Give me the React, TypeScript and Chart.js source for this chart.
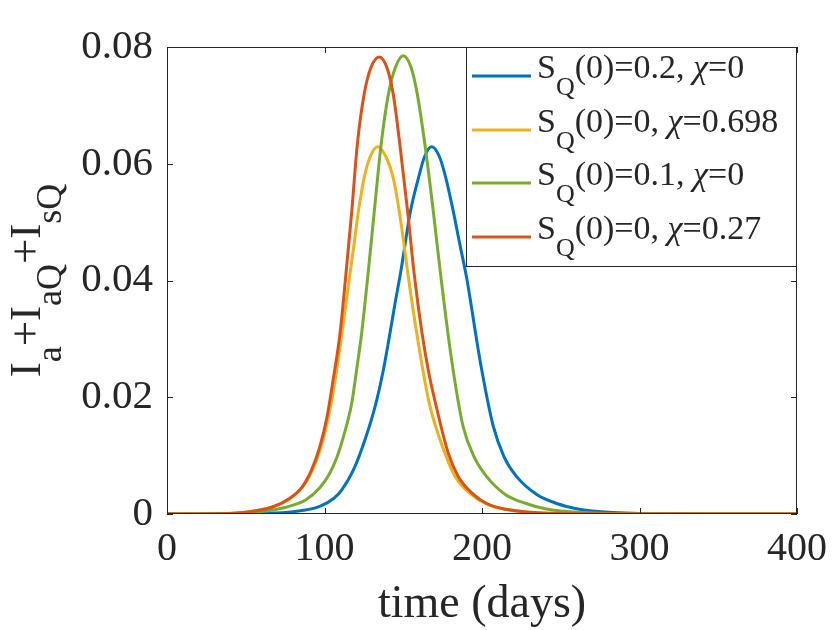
import { useEffect, useRef } from "react"
import { Chart, registerables } from "chart.js"

Chart.register(...registerables)

// curve samples (day, fraction infected)
const blueDays = [0, 40, 60, 80, 97, 106, 110.9, 118.3, 126.3, 132.7, 137.4, 141.2, 144.8, 148.6, 151.1, 154.3, 159.6, 163.5, 168, 173, 177.1, 181.8, 186, 190.3, 198.7, 207.2, 214, 222, 235, 247.5, 260, 270, 300, 340, 400]
const blueVals = [0, 0.00003, 0.0001, 0.0004, 0.0013, 0.0027, 0.0041, 0.0075, 0.0132, 0.019, 0.0247, 0.0304, 0.0361, 0.0418, 0.0461, 0.0515, 0.0575, 0.0612, 0.0629, 0.0612, 0.0575, 0.0518, 0.0461, 0.0404, 0.0264, 0.015, 0.0098, 0.0064, 0.0033, 0.0018, 0.0009, 0.0005, 0.0001, 0.00002, 0]

const yellowDays = [0, 30, 50, 67, 78, 86, 92, 97.5, 102, 106.3, 110.6, 115.8, 118.7, 121.5, 125.1, 129, 133.8, 139, 143.7, 147.5, 150.5, 152.6, 158.9, 166.5, 176.5, 183, 193, 203, 215, 230, 260, 300, 400]
const yellowVals = [0, 0.00005, 0.0003, 0.0012, 0.0026, 0.0046, 0.0073, 0.0112, 0.016, 0.0222, 0.03, 0.0404, 0.0461, 0.0518, 0.0575, 0.0612, 0.0629, 0.0612, 0.0575, 0.0518, 0.0461, 0.0418, 0.0304, 0.019, 0.0104, 0.0064, 0.0034, 0.0017, 0.0008, 0.0003, 0.00005, 0.00001, 0]

const greenDays = [0, 30, 50, 65, 76, 88, 97, 103, 108, 112, 117.3, 120.4, 123.6, 127.6, 131.6, 135.9, 140.5, 145, 150, 155, 159, 163.8, 169.1, 174, 180.7, 188, 195, 203, 215, 228, 240, 250, 280, 320, 400]
const greenVals = [0, 0.00003, 0.00022, 0.0006, 0.0012, 0.0024, 0.0045, 0.0068, 0.0098, 0.0132, 0.019, 0.0247, 0.031, 0.041, 0.0518, 0.0632, 0.0718, 0.0765, 0.0785, 0.0765, 0.0718, 0.0632, 0.0518, 0.0404, 0.0264, 0.015, 0.0098, 0.0064, 0.0033, 0.0018, 0.0009, 0.0005, 0.0001, 0.00002, 0]

const redDays = [0, 30, 50, 67, 78, 86, 92, 97, 101.5, 105.5, 109.8, 113.5, 117.3, 120.8, 125.1, 129.5, 134.8, 140, 143.7, 147.9, 152.8, 157, 161.8, 166, 170.2, 178.6, 185, 194, 203, 215, 230, 260, 300, 400]
const redVals = [0, 0.00005, 0.0003, 0.0012, 0.0027, 0.0047, 0.0077, 0.0115, 0.0165, 0.023, 0.0308, 0.0408, 0.0518, 0.0632, 0.0718, 0.0765, 0.0783, 0.0762, 0.0718, 0.0632, 0.0518, 0.041, 0.0312, 0.0245, 0.0193, 0.0104, 0.0064, 0.0035, 0.0018, 0.0008, 0.0003, 0.00005, 0.00001, 0]

const xTicks = [0, 100, 200, 300, 400]
const yTicks = [0, 0.02, 0.04, 0.06, 0.08]

// legend: S_Q(0)=..., chi=...
const legendSQ0 = ["0.2", "0", "0.1", "0"]
const legendChi = ["0", "0.698", "0", "0.27"]
const colors = ["#0072BD", "#EDB120", "#77AC30", "#D95319"]

const FONT = "'Liberation Serif', 'Times New Roman', serif"
const INK = "#262626"

type Seg = { text: string; size: number; dy?: number; italic?: boolean }

function drawSegs(ctx: CanvasRenderingContext2D, segs: Seg[], x: number, y: number) {
  let cx = x
  for (const s of segs) {
    ctx.font = `${s.italic ? "italic " : ""}${s.size}px ${FONT}`
    ctx.fillText(s.text, cx, y + (s.dy || 0))
    cx += ctx.measureText(s.text).width
  }
  return cx - x
}

function segsWidth(ctx: CanvasRenderingContext2D, segs: Seg[]) {
  let w = 0
  for (const s of segs) {
    ctx.font = `${s.italic ? "italic " : ""}${s.size}px ${FONT}`
    w += ctx.measureText(s.text).width
  }
  return w
}

const decorPlugin = {
  id: "matlabDecor",
  afterDraw(chart: any) {
    const ctx: CanvasRenderingContext2D = chart.ctx
    const { left, right, top, bottom } = chart.chartArea
    const xs = chart.scales.x
    const ys = chart.scales.y
    ctx.save()

    // axes box and inward ticks
    ctx.strokeStyle = INK
    ctx.lineWidth = 1
    ctx.strokeRect(left + 0.5, top + 0.5, right - left - 1, bottom - top - 1)
    ctx.beginPath()
    for (const v of xTicks) {
      const px = Math.round(xs.getPixelForValue(v)) + 0.5
      ctx.moveTo(px, bottom)
      ctx.lineTo(px, bottom - 6)
      ctx.moveTo(px, top)
      ctx.lineTo(px, top + 6)
    }
    for (const v of yTicks) {
      const py = Math.round(ys.getPixelForValue(v)) + 0.5
      ctx.moveTo(left, py)
      ctx.lineTo(left + 6, py)
      ctx.moveTo(right, py)
      ctx.lineTo(right - 6, py)
    }
    ctx.stroke()

    // legend
    const lx0 = 466
    const lx1 = right
    const ly0 = top
    const ly1 = 266
    ctx.fillStyle = "#ffffff"
    ctx.fillRect(lx0, ly0, lx1 - lx0, ly1 - ly0)
    ctx.strokeRect(lx0 + 0.5, ly0 + 0.5, lx1 - lx0 - 1, ly1 - ly0)
    const rowY = [76, 130, 183, 237]
    ctx.textBaseline = "alphabetic"
    ctx.textAlign = "left"
    legendSQ0.forEach((s0, i) => {
      ctx.strokeStyle = colors[i]
      ctx.lineWidth = 3
      ctx.beginPath()
      ctx.moveTo(472, rowY[i])
      ctx.lineTo(531, rowY[i])
      ctx.stroke()
      ctx.fillStyle = INK
      drawSegs(
        ctx,
        [
          { text: "S", size: 34 },
          { text: "Q", size: 26, dy: 17 },
          { text: `(0)=${s0}, `, size: 34 },
          { text: "χ", size: 34, italic: true },
          { text: `=${legendChi[i]}`, size: 34 },
        ],
        537,
        rowY[i] + 2
      )
    })

    // y axis title with subscripts
    const ySegs: Seg[] = [
      { text: "I", size: 45 },
      { text: "a", size: 36, dy: 21 },
      { text: "+", size: 45 },
      { text: "I", size: 45 },
      { text: "aQ", size: 36, dy: 21 },
      { text: "+", size: 45 },
      { text: "I", size: 45 },
      { text: "sQ", size: 36, dy: 21 },
    ]
    ctx.fillStyle = INK
    const w = segsWidth(ctx, ySegs)
    ctx.save()
    ctx.translate(40, (top + bottom) / 2)
    ctx.rotate(-Math.PI / 2)
    drawSegs(ctx, ySegs, -w / 2, 0)
    ctx.restore()

    // x axis title
    ctx.font = `46px ${FONT}`
    ctx.textAlign = "center"
    ctx.fillText("time (days)", (left + right) / 2, 617)

    ctx.restore()
  },
}

function toPoints(days: number[], vals: number[]) {
  return days.map((d, i) => ({ x: d, y: vals[i] }))
}

export default function App() {
  const canvasRef = useRef<HTMLCanvasElement>(null)

  useEffect(() => {
    document.body.style.margin = "0"
    if (!canvasRef.current) return
    const series = [
      toPoints(blueDays, blueVals),
      toPoints(yellowDays, yellowVals),
      toPoints(greenDays, greenVals),
      toPoints(redDays, redVals),
    ]
    const chart = new Chart(canvasRef.current, {
      type: "line",
      data: {
        datasets: series.map((pts, i) => ({
          label: `S_Q(0)=${legendSQ0[i]}, χ=${legendChi[i]}`,
          data: pts,
          borderColor: colors[i],
          borderWidth: 3,
          pointRadius: 0,
          fill: false,
          cubicInterpolationMode: "monotone" as const,
          order: 4 - i,
        })),
      },
      options: {
        responsive: false,
        animation: false,
        layout: { padding: { left: 0, top: 47, right: 43, bottom: 0 } },
        plugins: {
          legend: { display: false },
          tooltip: { enabled: false },
        },
        scales: {
          x: {
            type: "linear",
            min: 0,
            max: 400,
            grid: { display: false, drawTicks: false },
            border: { display: false },
            ticks: {
              stepSize: 100,
              padding: 11,
              color: INK,
              font: { family: FONT, size: 40 },
              maxRotation: 0,
            },
            afterFit: (scale: any) => {
              scale.height = 116
            },
          },
          y: {
            type: "linear",
            min: 0,
            max: 0.08,
            grid: { display: false, drawTicks: false },
            border: { display: false },
            ticks: {
              stepSize: 0.02,
              padding: 14,
              color: INK,
              font: { family: FONT, size: 41 },
              callback: (v: any) => (Number(v) === 0 ? "0" : Number(v).toFixed(2)),
            },
            afterFit: (scale: any) => {
              scale.width = 167
            },
          },
        },
      },
      plugins: [decorPlugin],
    })
    return () => chart.destroy()
  }, [])

  return (
    <div style={{ position: "absolute", left: 0, top: 0, width: 840, height: 630, background: "#fff" }}>
      <canvas ref={canvasRef} width={840} height={630} />
    </div>
  )
}
